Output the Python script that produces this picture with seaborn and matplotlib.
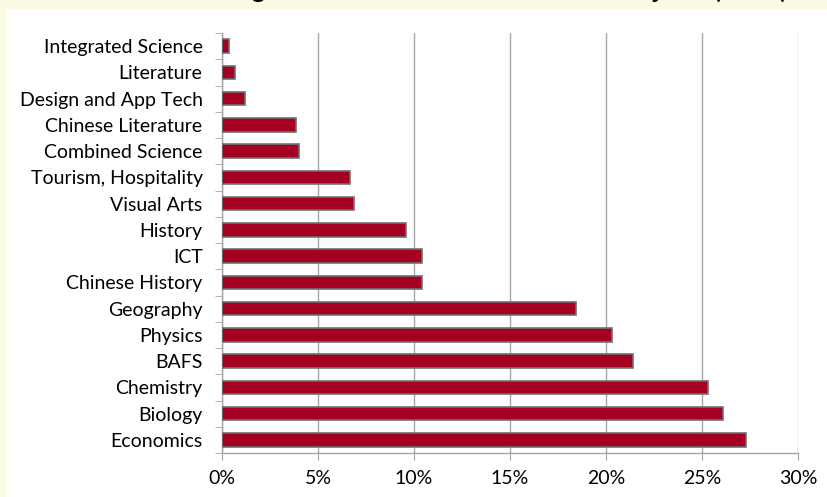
import pandas as pd
import seaborn as sns
import matplotlib.pyplot as plt
import matplotlib.ticker as ticker

subjects = ['Integrated Science', 'Literature', 'Design and App Tech', 'Chinese Literature',
            'Combined Science', 'Tourism, Hospitality', 'Visual Arts', 'History', 'ICT',
            'Chinese History', 'Geography', 'Physics', 'BAFS', 'Chemistry', 'Biology', 'Economics']
share = [0.36, 0.7, 1.2, 3.85, 4.0, 6.65, 6.9, 9.6, 10.4, 10.4, 18.45, 20.3, 21.4, 25.3, 26.1, 27.3]
x_ticks = [0, 5, 10, 15, 20, 25, 30]

df = pd.DataFrame({'subject': subjects, 'share': share})

sns.set_style('white')
plt.rcParams['font.family'] = ['Lato', 'DejaVu Sans']

fig = plt.figure(figsize=(8.28, 4.97), dpi=100)
fig.patch.set_facecolor('#FBFBE4')
# white chart panel behind everything
bg = fig.add_axes([7 / 828, 0, 1 - 7 / 828, 1 - 9 / 497], zorder=0)
bg.axis('off')
bg.add_patch(plt.Rectangle((0, 0), 1, 1, transform=bg.transAxes, facecolor='white',
                           edgecolor='none'))

ax = fig.add_axes([222 / 828, 1 - 453 / 497, 576 / 828, 420 / 497], zorder=1)
ax.patch.set_alpha(0)

sns.barplot(data=df, x='share', y='subject', color='#A50021', saturation=1,
            width=0.52, edgecolor='#707070', linewidth=1.2, ax=ax, zorder=3)

ax.set_xlim(0, 30)
ax.set_ylim(len(subjects) - 0.5, -0.5)
ax.set_xticks(x_ticks)
ax.xaxis.set_major_formatter(ticker.FuncFormatter(lambda v, p: f'{v:.0f}%'))
ax.set_xlabel('')
ax.set_ylabel('')
ax.xaxis.grid(True, color='#A6A6A6', linewidth=1)
ax.set_axisbelow(True)

for s in ['top', 'right']:
    ax.spines[s].set_visible(False)
for s in ['left', 'bottom']:
    ax.spines[s].set_color('#A6A6A6')
    ax.spines[s].set_linewidth(1)

ax.yaxis.set_minor_locator(ticker.FixedLocator([i - 0.5 for i in range(len(subjects) + 1)]))
ax.tick_params(axis='y', which='major', length=0, pad=14, labelsize=14, colors='black')
ax.tick_params(axis='y', which='minor', length=5, color='#A6A6A6', direction='out', left=True)
ax.tick_params(axis='x', which='major', length=5, color='#A6A6A6', direction='out',
               bottom=True, pad=7, labelsize=14, colors='black')

# title sits mostly above the visible area, as in the source
fig.text(0.565, 1.004, 'Percentage of Students in Each Elective Subjects (2012)',
         ha='center', va='baseline', fontsize=18.5, fontweight='bold', color='black')

fig.savefig('out.png', dpi=100, facecolor=fig.get_facecolor())
